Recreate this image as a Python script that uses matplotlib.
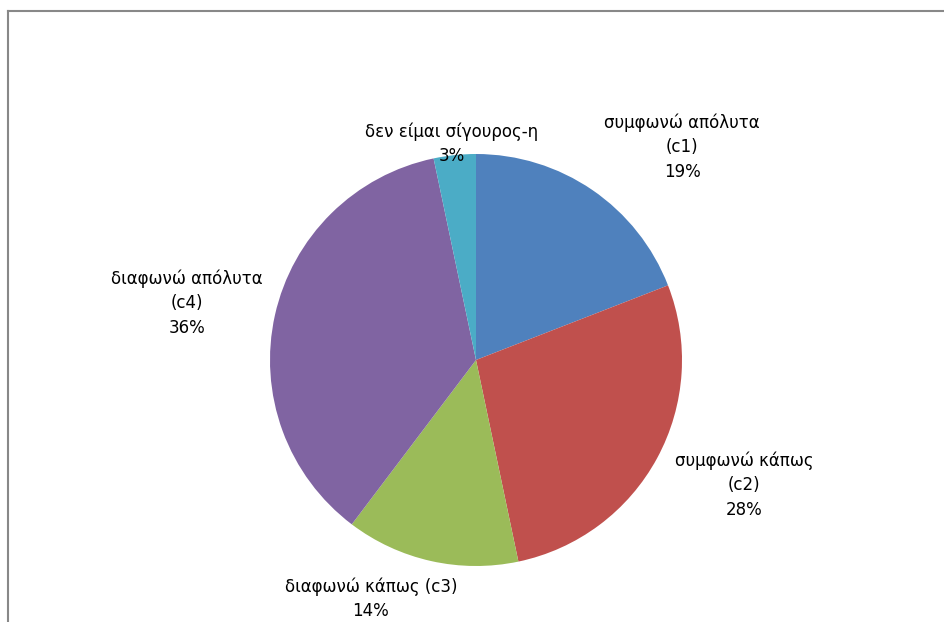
import matplotlib
matplotlib.use("Agg")
import matplotlib.pyplot as plt

# data (shares; labels show rounded values)
categories = ["συμφωνώ απόλυτα\n(c1)", "συμφωνώ κάπως\n(c2)", "διαφωνώ κάπως (c3)",
              "διαφωνώ απόλυτα\n(c4)", "δεν είμαι σίγουρος-η"]
shares = [19.1, 27.6, 13.6, 36.4, 3.3]
colors = ["#4F81BD", "#C0504D", "#9BBB59", "#8064A2", "#4BACC6"]

# label centres in pixels (layout only)
label_pos = [(682, 147), (744, 485), (371, 599), (187, 303), (452, 144)]

W, H = 944, 622
fig = plt.figure(figsize=(W / 100, H / 100), dpi=100)

# pie axes: centre (476, 360), radius 206 px
cx, cy, r = 476, 360, 206
ax = fig.add_axes([(cx - r) / W, 1 - (cy + r) / H, 2 * r / W, 2 * r / H])
ax.pie(shares, colors=colors, startangle=90, counterclock=False,
       radius=1, wedgeprops=dict(linewidth=0))
ax.set_xlim(-1, 1)
ax.set_ylim(-1, 1)
ax.set_aspect("equal")
ax.axis("off")

total = sum(shares)
for cat, v, (px, py) in zip(categories, shares, label_pos):
    fig.text(px / W, 1 - py / H, f"{cat}\n{round(100 * v / total)}%", ha="center",
             va="center", fontsize=12, family="DejaVu Sans", linespacing=1.45,
             color="black")

# chart frame (only top and left edges visible in the crop)
fig.add_artist(plt.Line2D([8 / W, 1], [1 - 11 / H, 1 - 11 / H], color="#888888", lw=1.5))
fig.add_artist(plt.Line2D([8 / W, 8 / W], [0, 1 - 11 / H], color="#888888", lw=1.5))

fig.savefig("out.png", dpi=100)
